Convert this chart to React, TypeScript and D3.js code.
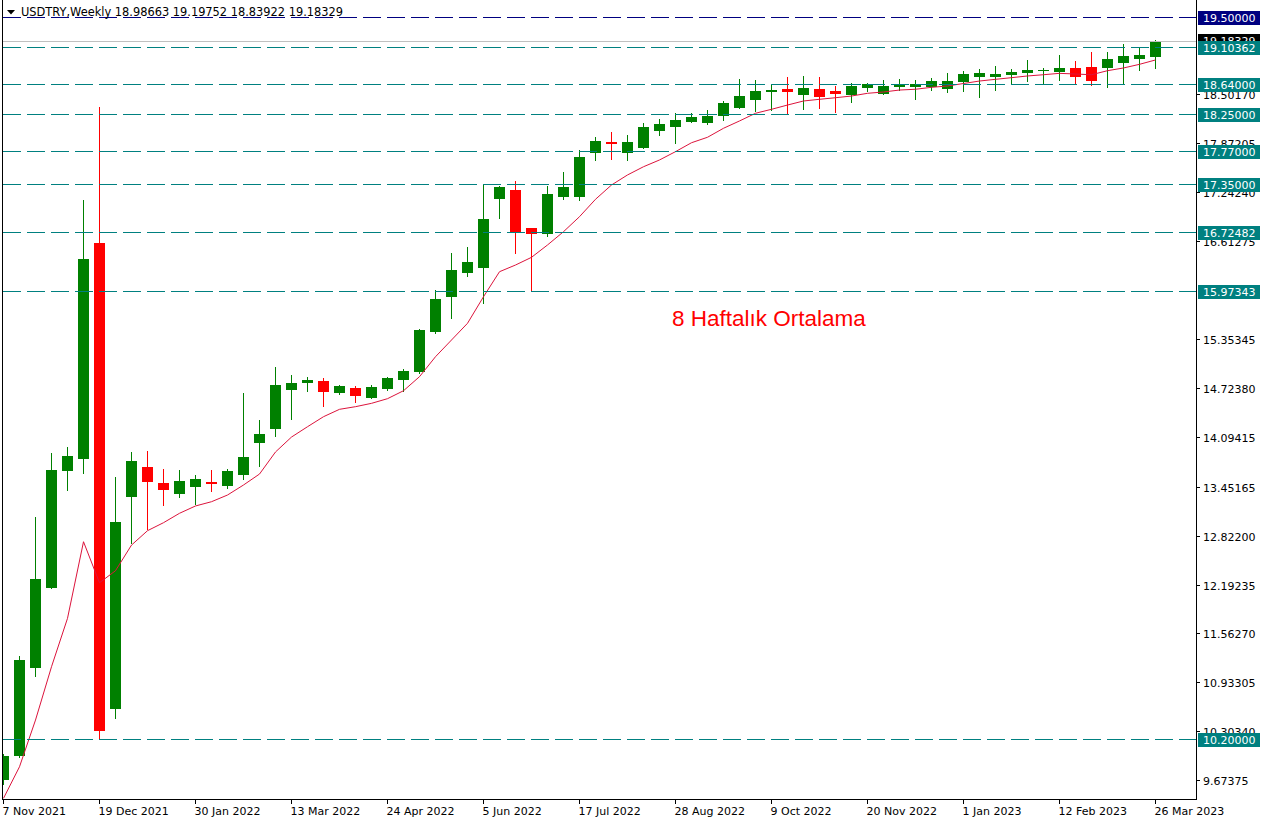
import React from "react";
import * as d3 from "d3";

// ---- data ----
const symbolHeader = "USDTRY,Weekly  18.98663 19.19752 18.83922 19.18329";
const weekStarts: Date[] = d3.timeWeek.range(new Date(2021, 10, 7), new Date(2023, 2, 27));

const opens = [
  9.676, 9.99, 11.12, 12.15, 13.657, 13.81, 16.59, 10.594, 13.318, 13.704,
  13.499, 13.361, 13.45, 13.515, 13.464, 13.605, 14.017, 14.194, 14.699, 14.789,
  14.811, 14.661, 14.721, 14.596, 14.712, 14.828, 14.927, 15.446, 15.896, 16.205,
  16.27, 17.158, 17.27, 16.78, 16.707, 17.18, 17.183, 17.746, 17.887, 17.75,
  17.81, 18.033, 18.084, 18.148, 18.136, 18.226, 18.329, 18.432, 18.534, 18.57,
  18.496, 18.57, 18.544, 18.496, 18.586, 18.509, 18.6, 18.6, 18.6, 18.573,
  18.663, 18.723, 18.723, 18.75, 18.775, 18.8, 18.788, 18.84, 18.852, 18.84,
  18.904, 18.956, 18.98663,
];
const highs = [
  10.01, 11.27, 13.06, 13.89, 13.96, 17.14, 18.34, 13.576, 13.9, 13.91,
  13.68, 13.666, 13.6, 13.666, 13.68, 14.656, 14.31, 14.99, 14.89, 14.863,
  14.85, 14.764, 14.747, 14.764, 14.867, 14.966, 15.485, 15.983, 16.459, 16.536,
  17.343, 17.321, 17.385, 16.78, 17.32, 17.5, 17.78, 17.954, 18.016, 17.977,
  18.13, 18.183, 18.26, 18.26, 18.3, 18.415, 18.698, 18.686, 18.633, 18.724,
  18.737, 18.724, 18.608, 18.646, 18.646, 18.686, 18.698, 18.686, 18.711, 18.775,
  18.8, 18.826, 18.865, 18.826, 18.943, 18.84, 19.007, 18.93, 19.046, 19.046,
  19.149, 19.11, 19.19752,
];
const lows = [
  9.62, 9.97, 11.01, 12.15, 13.41, 13.63, 10.2, 10.478, 12.73, 12.906,
  13.22, 13.322, 13.23, 13.4, 13.438, 13.55, 13.717, 14.1, 14.326, 14.686,
  14.493, 14.648, 14.545, 14.596, 14.695, 14.68, 14.914, 15.425, 15.626, 16.167,
  15.82, 16.913, 16.463, 15.986, 16.68, 17.158, 17.144, 17.657, 17.668, 17.656,
  17.81, 17.981, 17.878, 18.145, 18.123, 18.174, 18.329, 18.29, 18.3, 18.247,
  18.316, 18.329, 18.277, 18.406, 18.547, 18.509, 18.56, 18.445, 18.56, 18.534,
  18.543, 18.47, 18.556, 18.646, 18.672, 18.646, 18.686, 18.646, 18.62, 18.595,
  18.634, 18.814, 18.83922,
];
const closes = [
  9.986, 11.22, 12.26, 13.67, 13.846, 16.38, 10.31, 12.997, 13.78, 13.515,
  13.412, 13.524, 13.55, 13.49, 13.653, 13.833, 14.129, 14.76, 14.785, 14.824,
  14.674, 14.747, 14.622, 14.734, 14.85, 14.94, 15.468, 15.867, 16.24, 16.343,
  16.9, 17.308, 16.712, 16.707, 17.214, 17.308, 17.7, 17.9, 17.865, 17.887,
  18.08, 18.119, 18.17, 18.209, 18.222, 18.389, 18.479, 18.544, 18.556, 18.534,
  18.582, 18.47, 18.509, 18.608, 18.634, 18.608, 18.634, 18.634, 18.672, 18.672,
  18.762, 18.775, 18.762, 18.788, 18.814, 18.814, 18.84, 18.723, 18.672, 18.956,
  18.994, 19.007, 19.18329,
];
const ma8 = [
  9.441, 9.847, 10.448, 11.134, 11.757, 12.743, 12.215, 12.37, 12.7, 12.885,
  12.988, 13.109, 13.203, 13.258, 13.344, 13.473, 13.614, 13.898, 14.09, 14.223,
  14.352, 14.447, 14.481, 14.524, 14.584, 14.686, 14.867, 15.124, 15.339, 15.554,
  15.896, 16.218, 16.304, 16.403, 16.562, 16.733, 16.926, 17.15, 17.334, 17.463,
  17.569, 17.656, 17.763, 17.878, 17.948, 18.064, 18.158, 18.257, 18.308, 18.363,
  18.415, 18.437, 18.457, 18.479, 18.514, 18.531, 18.556, 18.566, 18.591, 18.608,
  18.64, 18.672, 18.694, 18.715, 18.737, 18.753, 18.771, 18.762, 18.753, 18.805,
  18.84, 18.887, 18.943,
];
const priceTicks = [
  "9.67375", "10.30340", "10.93305", "11.56270", "12.19235", "12.82200", "13.45165",
  "14.09415", "14.72380", "15.35345", "16.61275", "17.24240", "17.87205", "18.50170",
];
const navyLevels = [19.5];
const tealLevels = [19.10362, 18.64, 18.25, 17.77, 17.35, 16.72482, 15.97343, 10.2];
const currentPrice = 19.18329;
const annotation = "8 Haftalık Ortalama";

// ---- layout ----
const W = 1267;
const H = 823;
const L = 2;
const R = 1196;
const B = 799;
const FONT = "DejaVu Sans, Verdana, sans-serif";
const GREEN = "#008000";
const RED = "#ff0000";
const TEAL = "#008080";
const NAVY = "#000080";

export default function App() {
  const n = closes.length;
  const x = d3.scalePoint<number>().domain(d3.range(n)).range([3, 1155]);
  const y = d3.scaleLinear().domain([9.432, 19.689]).range([B, 2]);
  const fmt = d3.timeFormat("%-d %b %Y");
  const crisp = (v: number) => Math.round(v) + 0.5;

  const maPath = d3
    .line<number>()
    .x((_, i) => (x(i) as number) + 0.5)
    .y((d) => y(d))(ma8) as string;

  const dateTickIdx = d3.range(0, n, 6);

  return (
    <svg
      width={W}
      height={H}
      style={{ position: "fixed", left: 0, top: 0, background: "#fff" }}
      fontFamily={FONT}
    >
      <defs>
        <clipPath id="plotClip">
          <rect x={L} y={0} width={R - L} height={B} />
        </clipPath>
      </defs>
      <rect x={0} y={0} width={W} height={H} fill="#fff" />

      <g clipPath="url(#plotClip)">
        {/* candles */}
        {closes.map((c, i) => {
          const o = opens[i];
          const cx = x(i) as number;
          const col = c >= o ? GREEN : RED;
          const yTop = Math.round(y(Math.max(o, c)));
          const yBot = Math.round(y(Math.min(o, c)));
          const h = Math.max(1, yBot - yTop);
          return (
            <g key={i} shapeRendering="crispEdges">
              <line
                x1={cx + 0.5}
                x2={cx + 0.5}
                y1={Math.round(y(highs[i]))}
                y2={Math.round(y(lows[i])) + 1}
                stroke={col}
                strokeWidth={1}
              />
              <rect x={cx - 5} y={yTop} width={11} height={h} fill={col} />
            </g>
          );
        })}

        {/* moving average */}
        <path d={maPath} fill="none" stroke="#dc143c" strokeWidth={1} />

        {/* current price line */}
        <line
          x1={L}
          x2={R}
          y1={crisp(y(currentPrice))}
          y2={crisp(y(currentPrice))}
          stroke="#c0c0c0"
          shapeRendering="crispEdges"
        />

        {/* level lines */}
        {navyLevels.map((v) => (
          <line
            key={"n" + v}
            x1={L + 1}
            x2={R}
            y1={crisp(y(v))}
            y2={crisp(y(v))}
            stroke={NAVY}
            strokeDasharray="18,6"
            shapeRendering="crispEdges"
          />
        ))}
        {tealLevels.map((v) => (
          <line
            key={"t" + v}
            x1={L + 1}
            x2={R}
            y1={crisp(y(v))}
            y2={crisp(y(v))}
            stroke={TEAL}
            strokeDasharray="18,6"
            shapeRendering="crispEdges"
          />
        ))}
      </g>

      {/* annotation */}
      <text
        x={672}
        y={326}
        fill={RED}
        fontFamily="Liberation Sans, Arial, sans-serif"
        fontSize={22.5}
      >
        {annotation}
      </text>

      {/* header */}
      <polygon points="7,10 15,10 11,14.5" fill="#000" />
      <text x={21} y={16} fontSize={11.4} fill="#000">
        {symbolHeader}
      </text>

      {/* frame */}
      <g shapeRendering="crispEdges" stroke="#000">
        <line x1={L + 0.5} x2={L + 0.5} y1={0} y2={B + 1} />
        <line x1={R + 0.5} x2={R + 0.5} y1={0} y2={B + 1} />
        <line x1={L} x2={R + 1} y1={B + 0.5} y2={B + 0.5} />
      </g>

      {/* price axis ticks */}
      {priceTicks.map((t) => {
        const yy = crisp(y(parseFloat(t)));
        return (
          <g key={t}>
            <line x1={R} x2={R + 4} y1={yy} y2={yy} stroke="#000" shapeRendering="crispEdges" />
            <text x={1203} y={yy + 4} fontSize={11} fill="#000">
              {t}
            </text>
          </g>
        );
      })}

      {/* date axis */}
      {dateTickIdx.map((i) => {
        const cx = (x(i) as number) + 0.5;
        return (
          <g key={"d" + i}>
            <line x1={cx} x2={cx} y1={B} y2={B + 5} stroke="#000" shapeRendering="crispEdges" />
            <text x={cx - 1} y={815} fontSize={11} fill="#000">
              {fmt(weekStarts[i])}
            </text>
          </g>
        );
      })}

      {/* current price label */}
      <g>
        <rect x={1198} y={Math.round(y(currentPrice)) - 7} width={62} height={14} fill="#000" />
        <text x={1203} y={Math.round(y(currentPrice)) + 4} fontSize={11} fill="#fff">
          {currentPrice.toFixed(5)}
        </text>
      </g>

      {/* level labels */}
      {navyLevels.map((v) => (
        <g key={"nl" + v}>
          <rect x={1198} y={Math.round(y(v)) - 6} width={62} height={14} fill={NAVY} />
          <text x={1203} y={Math.round(y(v)) + 5} fontSize={11} fill="#fff">
            {v.toFixed(5)}
          </text>
        </g>
      ))}
      {tealLevels.map((v) => (
        <g key={"tl" + v}>
          <rect x={1198} y={Math.round(y(v)) - 6} width={62} height={14} fill={TEAL} />
          <text x={1203} y={Math.round(y(v)) + 5} fontSize={11} fill="#fff">
            {v.toFixed(5)}
          </text>
        </g>
      ))}
    </svg>
  );
}
